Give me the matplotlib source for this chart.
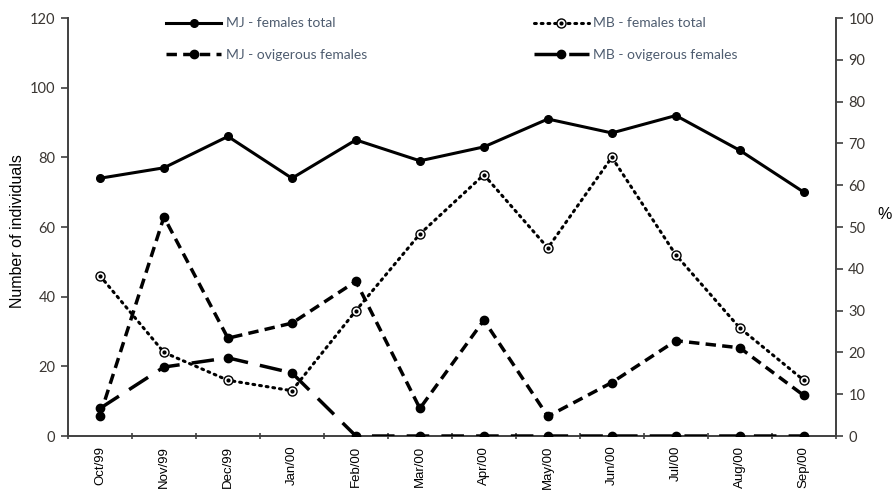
import matplotlib
matplotlib.use("Agg")
import matplotlib.pyplot as plt
import numpy as np

months = ["Oct/99", "Nov/99", "Dec/99", "Jan/00", "Feb/00", "Mar/00",
          "Apr/00", "May/00", "Jun/00", "Jul/00", "Aug/00", "Sep/00"]

# number of individuals (left axis)
mj_total = [74, 77, 86, 74, 85, 79, 83, 91, 87, 92, 82, 70]
mb_total = [46, 24, 16, 13, 36, 58, 75, 54, 80, 52, 31, 16]

# percentage of ovigerous females (right axis)
mj_ovig = [4.9, 52.4, 23.4, 27.0, 37.0, 6.6, 27.7, 4.7, 12.8, 22.8, 21.1, 9.7]
mb_ovig = [6.6, 16.5, 18.7, 15.1, 0, 0, 0, 0, 0, 0, 0, 0]

TXT = "#3a3632"
AX_COL = "#404040"

fig = plt.figure(figsize=(8.92, 4.92), dpi=100)
ax = fig.add_axes([0.0762, 0.1138, 0.8608, 0.8496])
ax2 = ax.twinx()

x = np.arange(len(months)) + 0.5

l1, = ax.plot(x, mj_total, color="black", lw=2.2, marker="o", ms=5.5)
l2, = ax.plot(x, mb_total, color="black", lw=2.2, ls=(0, (0.6, 1.6)),
              dash_capstyle="round", marker="o", ms=6.5, mfc="white",
              mec="black", mew=1.0)
l2b, = ax.plot(x, mb_total, ls="none", marker="o", ms=2, color="black")
l3, = ax2.plot(x, mj_ovig, color="black", lw=2.5, ls=(0, (3, 1.8)),
               marker="o", ms=6)
l4, = ax2.plot(x, mb_ovig, color="black", lw=2.5, ls=(0, (6.5, 3.5)),
               marker="o", ms=6)

ax.set_xlim(0, 12)
ax.set_ylim(0, 120)
ax2.set_ylim(0, 100)

ax.set_yticks(range(0, 121, 20))
ax2.set_yticks(range(0, 101, 10))

# tick marks between months, labels at month centres
ax.set_xticks(range(13))
ax.set_xticklabels([])
ax.set_xticks(x, minor=True)
ax.set_xticklabels(months, minor=True, rotation=90, fontsize=9.5,
                   family="Liberation Sans", color="black")
ax.tick_params(axis="x", which="minor", length=0, pad=7)
ax.tick_params(axis="x", which="major", length=5, width=1.2,
               color=AX_COL, direction="inout")

for a in (ax, ax2):
    a.tick_params(axis="y", length=5, width=1.2, color=AX_COL, labelsize=10.5,
                  labelcolor=TXT, pad=4)
    for lab in a.get_yticklabels():
        lab.set_family("Lato")
    for sp in a.spines.values():
        sp.set_color(AX_COL)
        sp.set_linewidth(1.4)
    a.spines["top"].set_visible(False)
ax.spines["right"].set_visible(False)
ax2.spines["left"].set_visible(False)
ax2.spines["bottom"].set_visible(False)

ax.set_ylabel("Number of individuals", fontsize=11.5, family="Liberation Sans")
ax.yaxis.set_label_coords(-0.056, 0.49)
ax2.set_ylabel("%", fontsize=11.5, family="Liberation Sans", rotation=0,
               va="center", ha="center")
ax2.yaxis.set_label_coords(1.064, 0.53)

fig.legend([l1, l3, (l2, l2b), l4],
           ["MJ - females total", "MJ - ovigerous females",
            "MB - females total", "MB - ovigerous females"],
           ncol=2, loc="upper left", bbox_to_anchor=(0.172, 0.99),
           frameon=False, handlelength=4, handletextpad=0.3,
           columnspacing=12.0, labelspacing=1.4,
           prop={"family": "Lato", "size": 10}, labelcolor="#4f5d70")

fig.savefig("out.png", dpi=100)
